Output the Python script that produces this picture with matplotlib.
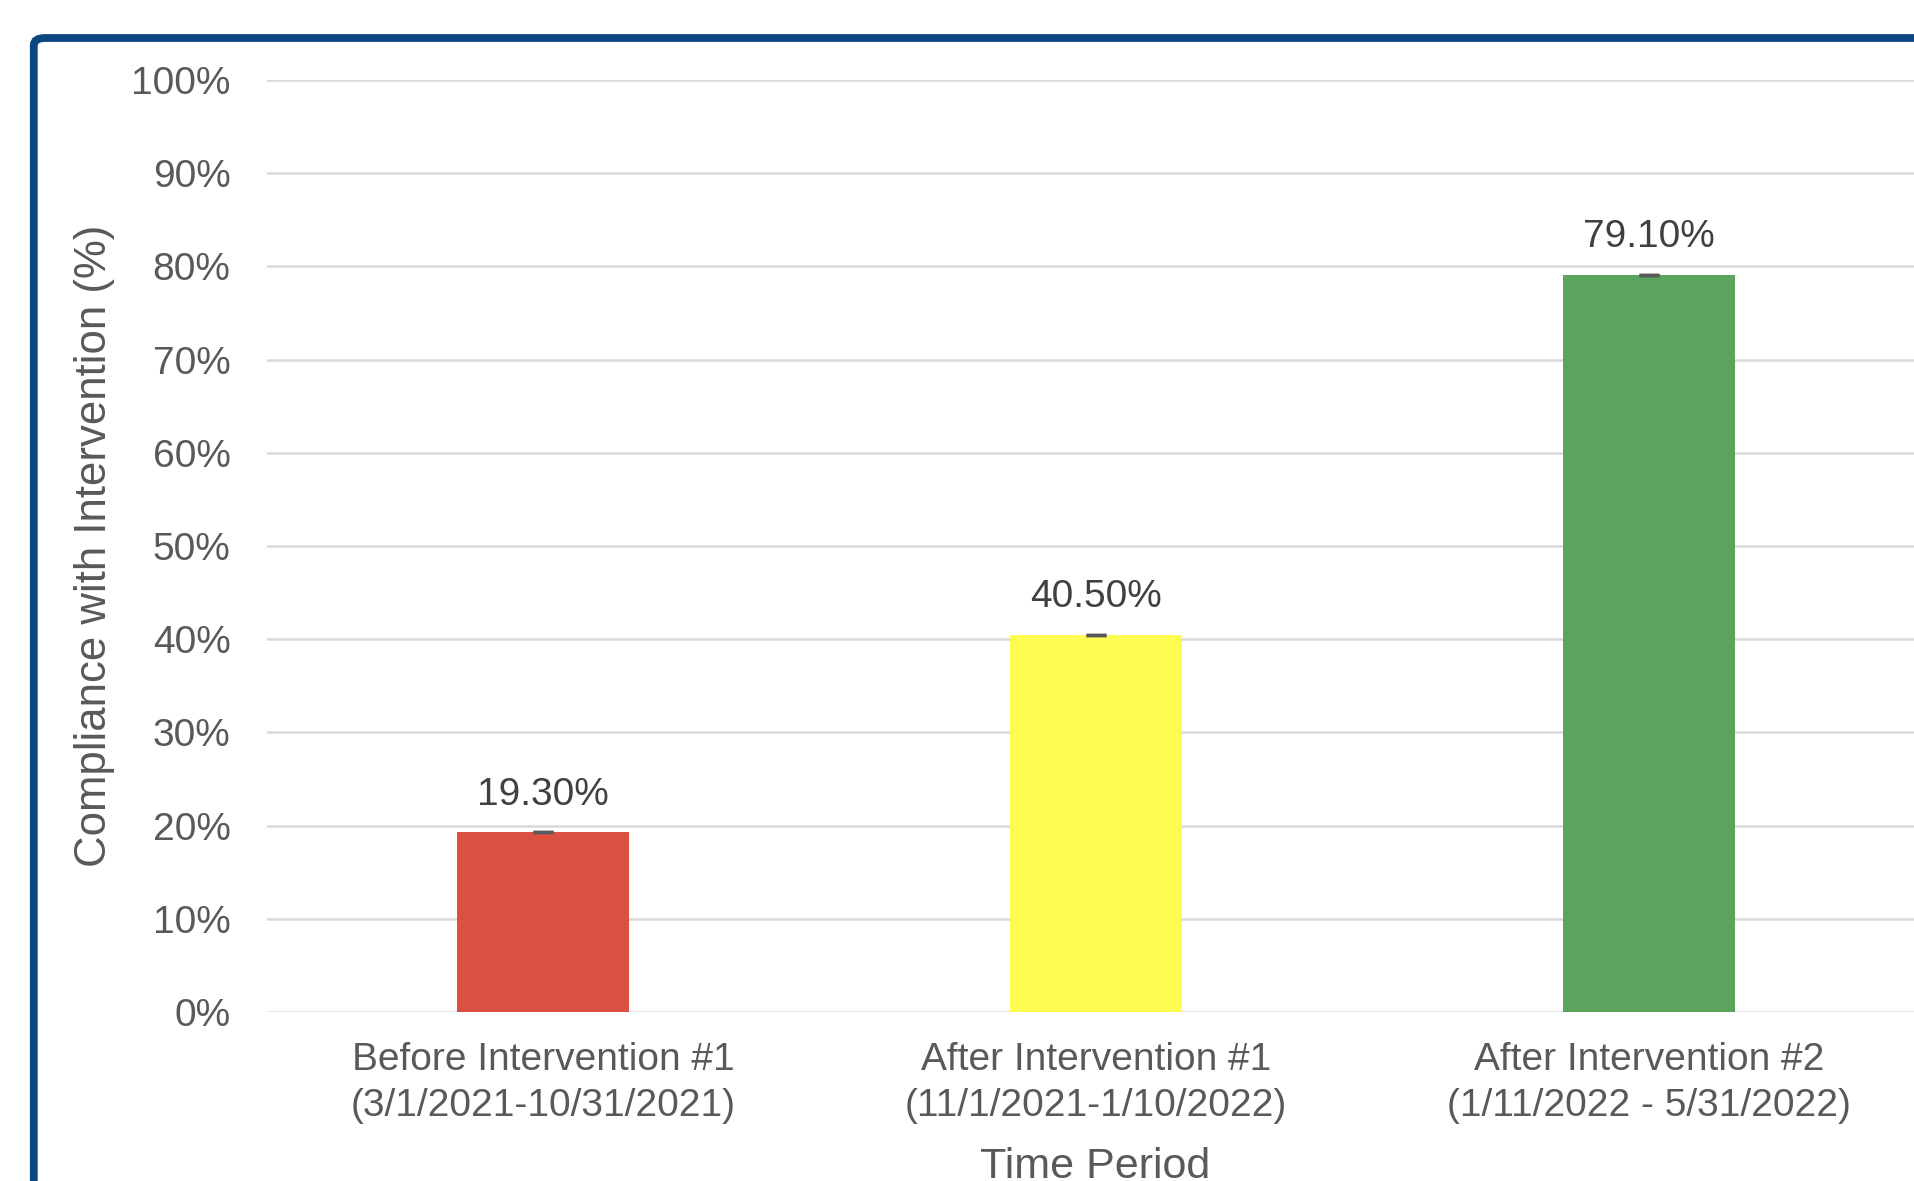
import numpy as np
import matplotlib.pyplot as plt
from matplotlib.patches import FancyBboxPatch
from matplotlib.ticker import PercentFormatter

plt.rcParams['font.family'] = ['Liberation Sans', 'DejaVu Sans']

# data
categories = ["Before Intervention #1\n(3/1/2021-10/31/2021)",
              "After Intervention #1\n(11/1/2021-1/10/2022)",
              "After Intervention #2\n(1/11/2022 - 5/31/2022)"]
compliance = [19.3, 40.5, 79.1]
errors = [0, 0, 0]
bar_colors = ["#da5141", "#fefc52", "#5aa45e"]
yticks = np.arange(0, 101, 10)

W, H = 1915, 1181
fig = plt.figure(figsize=(W / 100, H / 100), dpi=100)

# axes geometry (pixels), right side runs off the image like the source
ax = fig.add_axes([266.5 / W, 1 - 1012 / H, (1925.5 - 266.5) / W, (1012 - 80) / H])

x = np.arange(len(categories))
ax.bar(x, compliance, width=0.31, color=bar_colors, zorder=3)
ax.errorbar(x, compliance, yerr=errors, fmt='none', ecolor='#595959',
            elinewidth=2, capsize=7.5, capthick=2.5, zorder=4)

for xi, v in zip(x, compliance):
    ax.annotate(f"{v:.2f}%", (xi, v), xytext=(0, 14), textcoords='offset points',
                ha='center', va='bottom', fontsize=28, color='#404040')

ax.set_xlim(-0.5, 2.5)
ax.set_ylim(0, 100)
ax.set_yticks(yticks)
ax.yaxis.set_major_formatter(PercentFormatter(decimals=0))
ax.set_xticks(x)
ax.set_xticklabels(categories, linespacing=1.36)
ax.tick_params(axis='y', length=0, pad=26, labelsize=28, labelcolor='#595959')
ax.tick_params(axis='x', length=0, pad=21.5, labelsize=28, labelcolor='#595959')
ax.grid(axis='y', color='#d9d9d9', linewidth=1.8, zorder=0)
for s in ax.spines.values():
    s.set_visible(False)

ax.set_ylabel("Compliance with Intervention (%)", fontsize=31.5, color='#595959', labelpad=0)
ax.yaxis.set_label_coords(95 / W, 1 - 546 / H, transform=fig.transFigure)
ax.set_xlabel("Time Period", fontsize=31, color='#595959', labelpad=0)
ax.xaxis.set_label_coords(1095 / W, 1 - 1167 / H, transform=fig.transFigure)
ax.xaxis.label.set_va('center')
ax.yaxis.label.set_va('center')

# chart-area border (rounded, cut off at right and bottom)
border = FancyBboxPatch((33.8 / W, -0.2), 1.3, 1.2 - 38 / H,
                        boxstyle="round,pad=0,rounding_size=0.006",
                        transform=fig.transFigure, fill=False,
                        edgecolor='#0b4681', linewidth=5.6, zorder=10)
fig.patches.append(border)

fig.savefig("out.png", dpi=100)
